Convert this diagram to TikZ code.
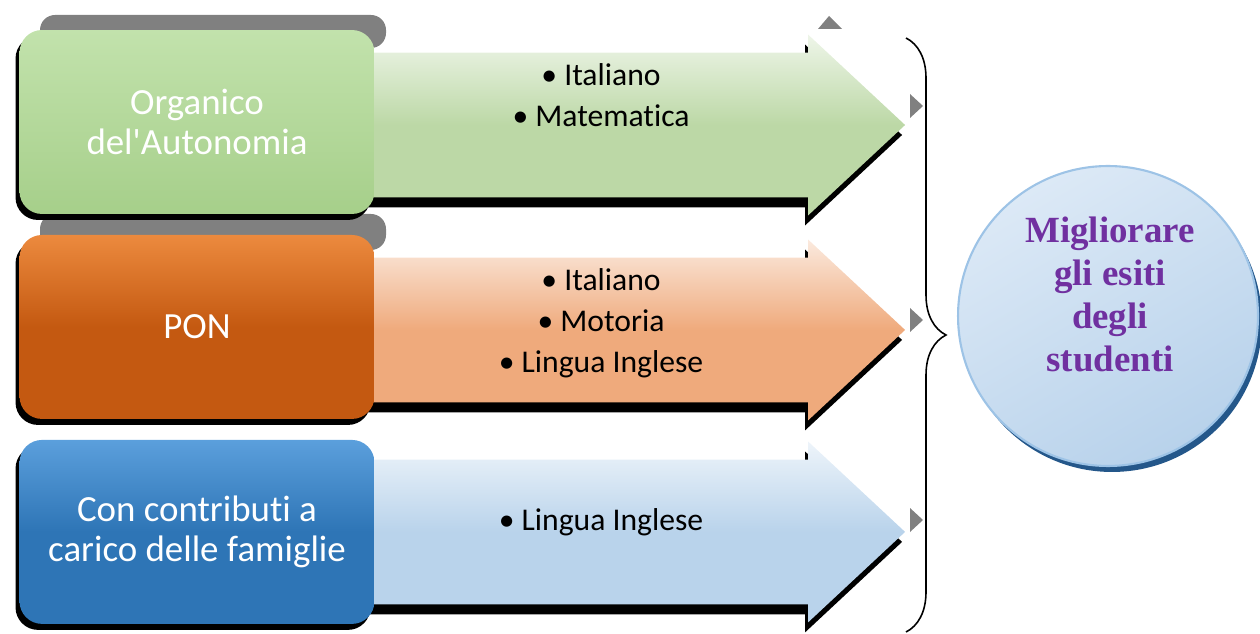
\documentclass[tikz,border=0pt]{standalone}
\usepackage{fontspec}
\setmainfont{Carlito}[Ligatures=NoCommon]
\newfontfamily\boxfont{Carlito}[Ligatures=NoCommon]
\newfontfamily\goalfont{Liberation Serif}
\usetikzlibrary{positioning,shapes.arrows,shadows,decorations.pathreplacing}

\definecolor{grnbox}{HTML}{A6CF8A}
\definecolor{grnlite}{HTML}{C2E2AC}
\definecolor{orgbox}{HTML}{C45911}
\definecolor{orglite}{HTML}{EC8A3E}
\definecolor{blubox}{HTML}{2E75B6}
\definecolor{blulite}{HTML}{5B9FDC}
\definecolor{grnarr}{HTML}{BCD8A6}
\definecolor{orgarr}{HTML}{EFAA7C}
\definecolor{bluarr}{HTML}{B9D3EB}
\definecolor{goalin}{HTML}{DCE9F6}
\definecolor{goalout}{HTML}{B8D2EB}
\definecolor{goalline}{HTML}{9DC3E6}
\definecolor{goalshade}{HTML}{24578A}
\definecolor{goaltext}{HTML}{7030A0}

\pgfdeclarelayer{ghosts}
\pgfdeclarelayer{behind}
\pgfsetlayers{ghosts,behind,main}

\begin{document}
\begin{tikzpicture}[x=0.02cm, y=-0.02cm, node distance=4.1cm, on grid,
    srcbox/.style={rounded corners=0.45cm, minimum width=7.1cm, minimum height=3.68cm,
        align=center, text=white, font=\boxfont\fontsize{21}{22.7}\selectfont,
        drop shadow={shadow xshift=-0.08cm, shadow yshift=-0.12cm, opacity=1, fill=black}},
    flow/.style={single arrow, single arrow head extend=0.36cm, single arrow tip angle=86,
        text height=1.44cm, text depth=1.44cm, text width=0pt,
        minimum height=10.7cm, inner sep=0pt, anchor=tail,
        drop shadow={shadow xshift=-0.06cm, shadow yshift=-0.2cm, opacity=1, fill=black}},
    items/.style={align=center, font=\fontsize{18}{23.3}\selectfont},
    ghost/.style={fill=black!50},
    goal/.style={circle, minimum size=6cm, draw=goalline, line width=1.2pt,
        left color=goalin, right color=goalout, shading angle=30,
        drop shadow={shadow xshift=0.08cm, shadow yshift=-0.12cm, opacity=1, fill=goalshade}}]
    \useasboundingbox (0,0) rectangle (1260,634);

    % sources
    \node[srcbox, top color=grnlite, bottom color=grnbox] (box_1) at (197,122) {Organico\\del\textquotesingle Autonomia};
    \node[srcbox, top color=orglite, bottom color=orgbox, middle color=orgbox] (box_2) [below=of box_1] {PON};
    \node[srcbox, top color=blulite, bottom color=blubox, middle color=blubox] (box_3) [below=of box_2] {Con contributi a\\carico delle famiglie};

    % arrows behind the boxes
    \begin{pgfonlayer}{behind}
    \node[flow, top color=grnarr!25!white, bottom color=grnarr, middle color=grnarr] (arr_1) at ([xshift=-0.1cm,yshift=-0.06cm]box_1.east) {};
    \node[flow, top color=orgarr!25!white, bottom color=orgarr, middle color=orgarr] (arr_2) at ([xshift=-0.1cm,yshift=-0.06cm]box_2.east) {};
    \node[flow, top color=bluarr!25!white, bottom color=bluarr, middle color=bluarr] (arr_3) at ([xshift=-0.1cm]box_3.east) {};
    \end{pgfonlayer}

    % grey leftovers
    \begin{pgfonlayer}{ghosts}
    \fill[ghost, rounded corners=0.3cm] (40,15) rectangle (386,48);
    \fill[ghost, rounded corners=0.3cm] (40,214) rectangle (386,250);
    \fill[ghost] (818,29) -- (829,16) -- (842,29) -- cycle;
    \fill[ghost] (910,94) -- (923,106) -- (910,118) -- cycle;
    \fill[ghost] (910,308) -- (923,320) -- (910,332) -- cycle;
    \fill[ghost] (910,508) -- (923,520) -- (910,532) -- cycle;
    \end{pgfonlayer}

    \node[items] (lst_1) at (601,95) {• Italiano\\• Matematica};
    \node[items] (lst_2) at (601,323) {• Italiano\\• Motoria\\• Lingua Inglese};
    \node[items] (lst_3) at (601,522) {• Lingua Inglese};

    % brace and goal
    \coordinate (br_top) at (906,38);
    \coordinate (br_bot) at (906,632);
    \draw[line width=0.9pt, decorate, decoration={brace, amplitude=0.8cm}] (br_top) -- (br_bot);

    \node[goal] (goal) at (1108,316) {};
    \node[font=\goalfont\bfseries\fontsize{21}{24.5}\selectfont, text=goaltext, align=center]
        (goal_txt) at (1110,294) {Migliorare\\gli esiti\\degli\\studenti};
\end{tikzpicture}
\end{document}
